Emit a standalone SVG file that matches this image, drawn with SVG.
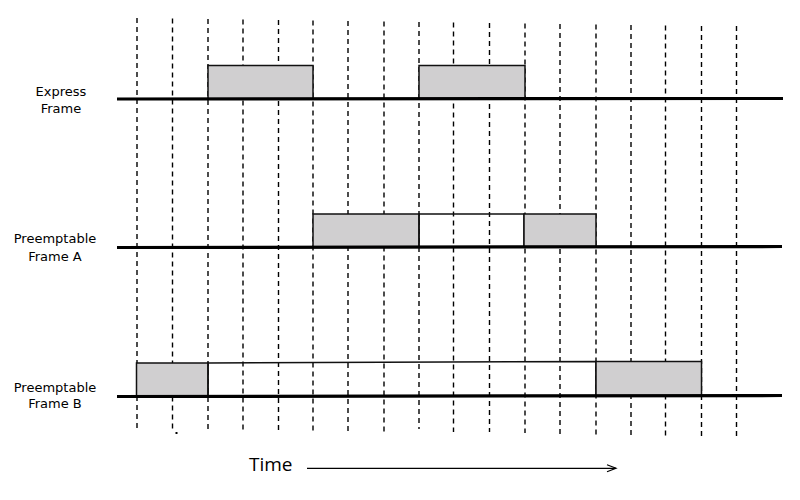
<svg xmlns="http://www.w3.org/2000/svg" width="800" height="500" viewBox="0 0 800 500">
<defs>
<style>
.grid line{stroke:#000;stroke-width:1.4;stroke-dasharray:5 4}
.base{stroke:#000;stroke-width:3.2;fill:none}
.gray{fill:#d0cfd0;stroke:#111;stroke-width:1.5}
.white{fill:none;stroke:#111;stroke-width:1.5}
.lbl{font-family:"DejaVu Sans","Open Sans",sans-serif;font-size:13px;fill:#000;text-anchor:middle}
.time{font-family:"Open Sans","Noto Sans",sans-serif;font-size:19px;fill:#000}
</style>
<marker id="chev" markerWidth="12" markerHeight="10" refX="10" refY="5" orient="auto" markerUnits="userSpaceOnUse">
<path d="M1,1.5 L10,5 L1,8.5" fill="none" stroke="#000" stroke-width="1.2"/>
</marker>
</defs>
<rect width="800" height="500" fill="#fff"/>
<g id="grid" class="grid">
<line x1="137" y1="18" x2="137" y2="429"/>
<line x1="172.5" y1="18.5" x2="172.5" y2="429.5"/>
<line x1="208" y1="19" x2="208" y2="430"/>
<line x1="243" y1="19.5" x2="243" y2="430.5"/>
<line x1="278.5" y1="20" x2="278.5" y2="431"/>
<line x1="313" y1="20.5" x2="313" y2="431.5"/>
<line x1="348" y1="21" x2="348" y2="432"/>
<line x1="384" y1="21.5" x2="384" y2="432.5"/>
<line x1="419" y1="22" x2="419" y2="429"/>
<line x1="453.5" y1="22.5" x2="453.5" y2="432"/>
<line x1="489.5" y1="23" x2="489.5" y2="432"/>
<line x1="525" y1="23.5" x2="525" y2="433"/>
<line x1="560" y1="24" x2="560" y2="434"/>
<line x1="596" y1="24.5" x2="596" y2="435"/>
<line x1="631" y1="25" x2="631" y2="435"/>
<line x1="665.5" y1="25.5" x2="665.5" y2="437"/>
<line x1="701.5" y1="26" x2="701.5" y2="437"/>
<line x1="736.5" y1="26" x2="736.5" y2="437"/>
</g>
<rect x="175.5" y="432" width="2" height="2" fill="#000"/>
<g id="express">
<rect class="gray" x="208" y="65.5" width="105" height="33.5"/>
<rect class="gray" x="419" y="65.5" width="106" height="33.5"/>
<line class="base" x1="117" y1="99" x2="783" y2="98.5"/>
<text class="lbl" x="61" y="96">Express</text>
<text class="lbl" x="61" y="113">Frame</text>
</g>
<g id="frameA">
<rect class="gray" x="313" y="214" width="106" height="33"/>
<rect class="white" x="419" y="214" width="105" height="33"/>
<rect class="gray" x="524" y="214" width="72" height="33"/>
<line class="base" x1="117" y1="247.5" x2="782" y2="246.5"/>
<text class="lbl" x="55" y="243">Preemptable</text>
<text class="lbl" x="55" y="261">Frame A</text>
</g>
<g id="frameB">
<rect class="gray" x="136.5" y="363" width="71.5" height="33"/>
<path class="white" d="M208,363 L596,361.5 L596,396 L208,396 Z"/>
<rect class="gray" x="596" y="361.5" width="105.5" height="34.5"/>
<line class="base" x1="117" y1="396.5" x2="782" y2="395.5"/>
<text class="lbl" x="55" y="391.5">Preemptable</text>
<text class="lbl" x="55" y="408">Frame B</text>
</g>
<g id="connectors">
<line x1="307" y1="468.3" x2="616" y2="468.3" stroke="#000" stroke-width="1.2" marker-end="url(#chev)"/>
</g>
<text class="time" x="249" y="471">Time</text>
</svg>
